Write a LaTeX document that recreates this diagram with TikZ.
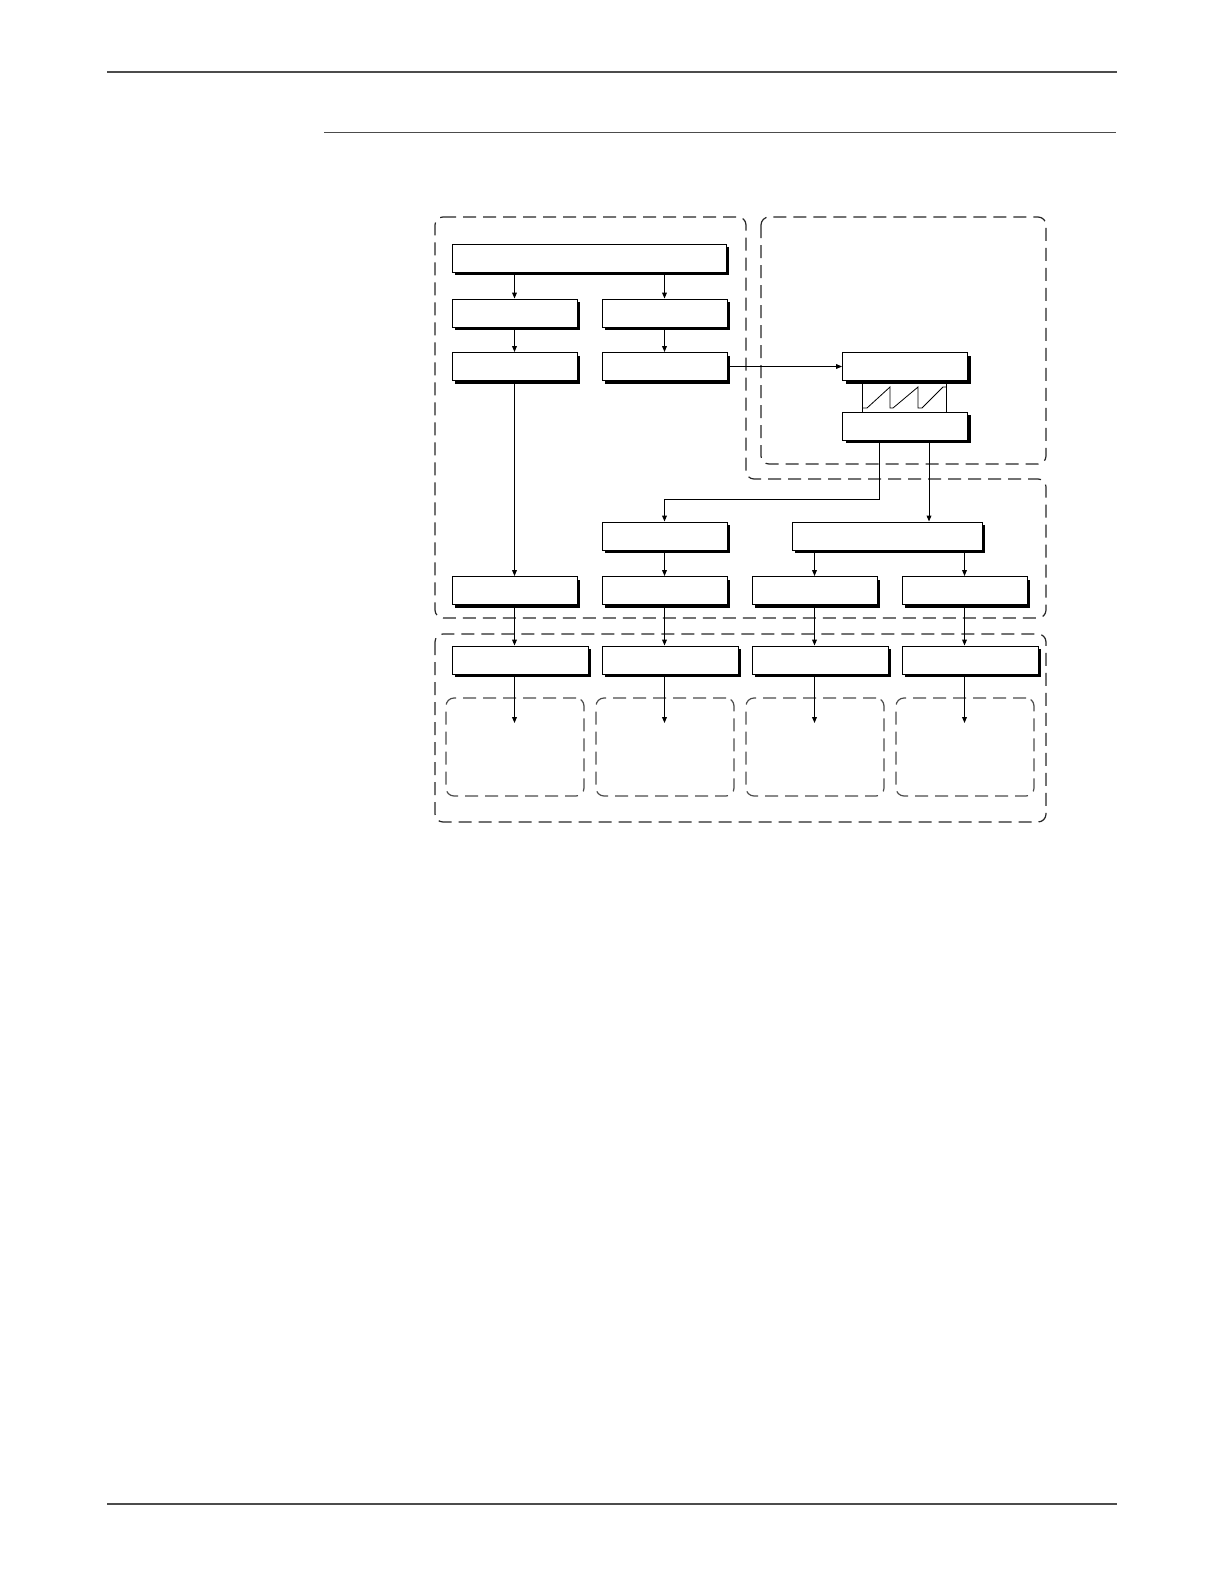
\documentclass[tikz,border=0pt]{standalone}
\usetikzlibrary{
    arrows.meta,
    shadows
}
\tikzset{
    % Colors
    frame color/.style={black!85},
    load color/.style={black!70},
    rule color/.style={black!70},
    %
    % Boxes
    block/.style={draw,fill=white,line width=0.5pt,inner sep=0pt,minimum width=62.5pt,minimum height=14pt,
        drop shadow={shadow xshift=1.6pt,shadow yshift=-1.6pt,fill=black,opacity=1}},
    wide block/.style={block,minimum width=#1},
    region/.style={frame color,line width=0.6pt,dash pattern=on 6.5pt off 3.5pt,rounded corners=4pt},
    load region/.style={region,load color,draw,inner sep=0pt,minimum width=69pt,minimum height=49pt},
    %
    % Arrows
    arrow tip/.tip={Triangle[length=3pt,width=2.4pt]},
    arr/.style={->,>={arrow tip},line width=0.5pt}
}

\begin{document}
\begin{tikzpicture}[x=0.5pt,y=-0.5pt]
        \useasboundingbox (0,0) rectangle (1224,1584);
        % page rules
        \draw[rule color,line width=1pt] (107,72) -- (1117,72);
        \draw[rule color,line width=0.5pt] (324,133) -- (1116,133);
        \draw[rule color,line width=1pt] (107,1504) -- (1117,1504);

        % dashed regions
        \draw[region] (435,217) -- (746,217) -- (746,479) -- (1046,479) -- (1046,618) -- (435,618) -- cycle;
        \draw[region] (761,217) rectangle (1046,464);
        \draw[region] (435,634) rectangle (1046,822);

        % upper chain
        \node[wide block=137pt] (src) at (589,258) {};
        \node[block] (chA1) at (514.5,313) {};
        \node[block] (chB1) at (664.5,313) {};
        \node[block] (chA2) at (514.5,366.5) {};
        \node[block] (chB2) at (664.5,366.5) {};

        % timer
        \node[draw,line width=0.4pt,inner sep=0pt,minimum width=42pt,minimum height=14.5pt] (saw) at (904,397.5) {};
        \draw[line width=0.4pt] (862,408) -- (867,408) -- (890,387) -- (890,408) -- (893,408) -- (918,387) -- (918,408) -- (922,408) -- (943,387) -- (946,387);
        \node[block] (tmrin) at (905,366.5) {};
        \node[block] (tmrout) at (905,426) {};

        % middle row
        \node[block] (sel) at (664.5,536) {};
        \node[wide block=95pt] (dist) at (887,536) {};

        % outputs, drivers and loads
        \foreach \i in {1,...,4} {
            \node[block] (out\i) at ({364.5+150*\i},590.5) {};
            \node[wide block=68pt] (drv\i) at ({370+150*\i},660) {};
            \node[load region] (ld\i) at ({365+150*\i},747) {};
            \coordinate (tip\i) at ({364.5+150*\i},723);
            \draw[arr] (out\i.south) -- (out\i.south |- drv\i.north);
            \draw[arr] (out\i.south |- drv\i.south) -- (tip\i);
        }

        % connectors
        \draw[arr] (chA1.north |- src.south) -- (chA1.north);
        \draw[arr] (chB1.north |- src.south) -- (chB1.north);
        \draw[arr] (chA1.south) -- (chA2.north);
        \draw[arr] (chB1.south) -- (chB2.north);
        \draw[arr] (chA2.south) -- (out1.north);
        \draw[arr] (chB2.east) -- (tmrin.west);
        \draw[arr] ([xshift=-13pt]tmrout.south) -- ++(0,59) -| (sel.north);
        \draw[arr] ([xshift=12pt]tmrout.south) -- ([xshift=12pt]tmrout.south |- dist.north);
        \draw[arr] (sel.south) -- (out2.north);
        \draw[arr] (out3.north |- dist.south) -- (out3.north);
        \draw[arr] (out4.north |- dist.south) -- (out4.north);
    \end{tikzpicture}
\end{document}
